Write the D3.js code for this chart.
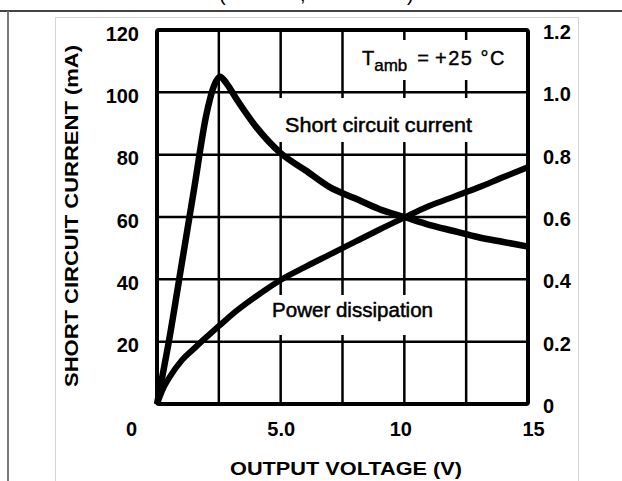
<!DOCTYPE html>
<html>
<head>
<meta charset="utf-8">
<script src="https://cdnjs.cloudflare.com/ajax/libs/d3/7.8.5/d3.min.js"></script>
<style>
  body { margin: 0; background: #fff; }
  text { font-family: "Liberation Sans", Arial, sans-serif; fill: #000; }
  .tick text { font-family: "Liberation Sans Narrow", "Liberation Sans", Arial, sans-serif; font-weight: bold; font-size: 20px; }
</style>
</head>
<body>
<div id="chart"></div>
<script>
// short circuit current curve (left axis, mA)
var scVoltage = [0, 0.5, 1, 1.5, 2, 2.3, 2.55, 2.8, 3.2, 4, 5, 6, 7, 8, 9, 10, 11, 12, 13, 14, 15];
var scCurrent = [0, 21, 45, 69, 93, 102, 105, 103, 98, 89, 80.5, 75, 69.5, 66, 62.5, 60, 57.5, 55.5, 53.5, 52, 50.5];

// power dissipation curve (right axis, W)
var pdVoltage = [0, 0.25, 0.5, 1, 1.5, 2, 2.5, 3, 4, 5, 6, 7, 8, 9, 10, 11, 12, 13, 14, 15];
var pdPower = [0, 0.05, 0.085, 0.14, 0.178, 0.215, 0.25, 0.285, 0.345, 0.398, 0.44, 0.48, 0.52, 0.56, 0.598, 0.635, 0.665, 0.695, 0.728, 0.76];

// tick values and labels
var voltageTicks = [0, 5, 10, 15];
var voltageLabels = ["0", "5.0", "10", "15"];
var currentTicks = [20, 40, 60, 80, 100, 120];
var powerTicks = [0, 0.2, 0.4, 0.6, 0.8, 1.0, 1.2];
var powerLabels = ["0", "0.2", "0.4", "0.6", "0.8", "1.0", "1.2"];
var gridVoltage = [2.5, 5, 7.5, 10, 12.5];
var gridCurrent = [20, 40, 60, 80, 100];

// svg size and plot box
var svgWidth = 622;
var svgHeight = 481;
var margin = { top: 30, right: 94, bottom: 77, left: 157 };
var width = svgWidth - margin.left - margin.right;
var height = svgHeight - margin.top - margin.bottom;

var svg = d3.select("#chart")
    .append("svg")
    .attr("width", svgWidth)
    .attr("height", svgHeight);

// page frame bits from the scan
svg.append("rect")
    .attr("x", 55.5).attr("y", 17.5)
    .attr("width", 523).attr("height", 500)
    .attr("fill", "none").attr("stroke", "#d4d4d4").attr("stroke-width", 1);
svg.append("line")
    .attr("x1", 0).attr("x2", svgWidth).attr("y1", 11).attr("y2", 11)
    .attr("stroke", "#444").attr("stroke-width", 2);
svg.append("line")
    .attr("x1", 8).attr("x2", 8).attr("y1", 11).attr("y2", svgHeight)
    .attr("stroke", "#777").attr("stroke-width", 2);

var chartGroup = svg.append("g")
    .attr("transform", `translate(${margin.left}, ${margin.top})`);

// scales
var xScale = d3.scaleLinear().domain([0, 15]).range([0, width]);
var yCurrent = d3.scaleLinear().domain([0, 120]).range([height, 0]);
var yPower = d3.scaleLinear().domain([0, 1.2]).range([height, 0]);

// vertical grid lines
chartGroup.selectAll(".vgrid")
    .data(gridVoltage)
    .enter()
    .append("line")
    .attr("class", "vgrid")
    .attr("x1", d => xScale(d)).attr("x2", d => xScale(d))
    .attr("y1", 0).attr("y2", height)
    .attr("stroke", "#000").attr("stroke-width", 2.5);

// white patches behind the labels cut the vertical grid lines
var knockouts = [
    { x: 200, y: 10, w: 170, h: 40 },
    { x: 118, y: 68, w: 215, h: 44 },
    { x: 108, y: 265, w: 175, h: 40 }
];
chartGroup.selectAll(".knock")
    .data(knockouts)
    .enter()
    .append("rect")
    .attr("x", d => d.x).attr("y", d => d.y)
    .attr("width", d => d.w).attr("height", d => d.h)
    .attr("fill", "#fff");

// horizontal grid lines
chartGroup.selectAll(".hgrid")
    .data(gridCurrent)
    .enter()
    .append("line")
    .attr("class", "hgrid")
    .attr("x1", 0).attr("x2", width)
    .attr("y1", d => yCurrent(d)).attr("y2", d => yCurrent(d))
    .attr("stroke", "#000").attr("stroke-width", 2.5);

// plot frame
chartGroup.append("rect")
    .attr("width", width).attr("height", height)
    .attr("rx", 2)
    .attr("fill", "none").attr("stroke", "#000").attr("stroke-width", 4);

// curves
var scLine = d3.line()
    .x((d, i) => xScale(scVoltage[i]))
    .y(d => yCurrent(d))
    .curve(d3.curveMonotoneX);

var pdLine = d3.line()
    .x((d, i) => xScale(pdVoltage[i]))
    .y(d => yPower(d))
    .curve(d3.curveMonotoneX);

chartGroup.append("path")
    .attr("d", scLine(scCurrent))
    .attr("fill", "none").attr("stroke", "#000")
    .attr("stroke-width", 6.5).attr("stroke-linejoin", "round");

chartGroup.append("path")
    .attr("d", pdLine(pdPower))
    .attr("fill", "none").attr("stroke", "#000")
    .attr("stroke-width", 6).attr("stroke-linejoin", "round");

// axes (labels only, the frame draws the lines)
var leftAxis = d3.axisLeft(yCurrent).tickValues(currentTicks).tickSize(0).tickPadding(18);
var rightAxis = d3.axisRight(yPower).tickValues(powerTicks)
    .tickFormat((d, i) => powerLabels[i]).tickSize(0).tickPadding(15);
var bottomAxis = d3.axisBottom(xScale).tickValues(voltageTicks)
    .tickFormat((d, i) => voltageLabels[i]).tickSize(0).tickPadding(18);

var gLeft = chartGroup.append("g").call(leftAxis);
var gRight = chartGroup.append("g").attr("transform", `translate(${width}, 0)`).call(rightAxis);
var gBottom = chartGroup.append("g").attr("transform", `translate(0, ${height})`).call(bottomAxis);

[gLeft, gRight, gBottom].forEach(function(g) {
    g.select(".domain").remove();
    g.attr("font-family", null).attr("font-size", null);
});
gLeft.selectAll(".tick text").attr("dy", "0.5em");
gRight.selectAll(".tick text").attr("dy", "0.42em");
// the origin "0" sits out at the corner
gBottom.selectAll(".tick text").filter(d => d === 0).attr("dx", -26);
gBottom.selectAll(".tick text").filter(d => d === 10).attr("dx", -4);
gBottom.selectAll(".tick text").filter(d => d === 15).attr("dx", 5);

// axis titles
svg.append("text")
    .attr("transform", "translate(78, 216) rotate(-90)")
    .attr("text-anchor", "middle")
    .attr("font-size", "19px")
    .attr("font-weight", "bold")
    .attr("textLength", 342)
    .attr("lengthAdjust", "spacingAndGlyphs")
    .text("SHORT CIRCUIT CURRENT (mA)");

svg.append("text")
    .attr("x", 346).attr("y", 475)
    .attr("text-anchor", "middle")
    .attr("font-size", "19px")
    .attr("font-weight", "bold")
    .attr("textLength", 232)
    .attr("lengthAdjust", "spacingAndGlyphs")
    .text("OUTPUT VOLTAGE (V)");

// curve labels
svg.append("text")
    .attr("x", 285).attr("y", 132)
    .attr("font-size", "20px")
    .attr("stroke", "#000").attr("stroke-width", 0.5)
    .attr("textLength", 187)
    .attr("lengthAdjust", "spacingAndGlyphs")
    .text("Short circuit current");

svg.append("text")
    .attr("x", 272).attr("y", 317)
    .attr("font-size", "20px")
    .attr("stroke", "#000").attr("stroke-width", 0.5)
    .attr("textLength", 161)
    .attr("lengthAdjust", "spacingAndGlyphs")
    .text("Power dissipation");

// ambient temperature note
var tamb = svg.append("text")
    .attr("x", 362).attr("y", 65)
    .attr("font-size", "20px")
    .attr("stroke", "#000").attr("stroke-width", 0.4);
tamb.append("tspan").text("T");
tamb.append("tspan").attr("font-size", "17px").attr("dy", 6).text("amb");
tamb.append("tspan").attr("dx", 10).attr("dy", -6).text("=");
tamb.append("tspan").attr("dx", 6).attr("letter-spacing", "1.5px").text("+25 °C");

// clipped caption at the very top of the scan
svg.append("text").attr("x", 219).attr("y", 1).attr("font-size", "20px").text("(");
svg.append("text").attr("x", 300).attr("y", 1).attr("font-size", "20px").text(",");
svg.append("text").attr("x", 407).attr("y", 1).attr("font-size", "20px").text(")");
</script>
</body>
</html>
